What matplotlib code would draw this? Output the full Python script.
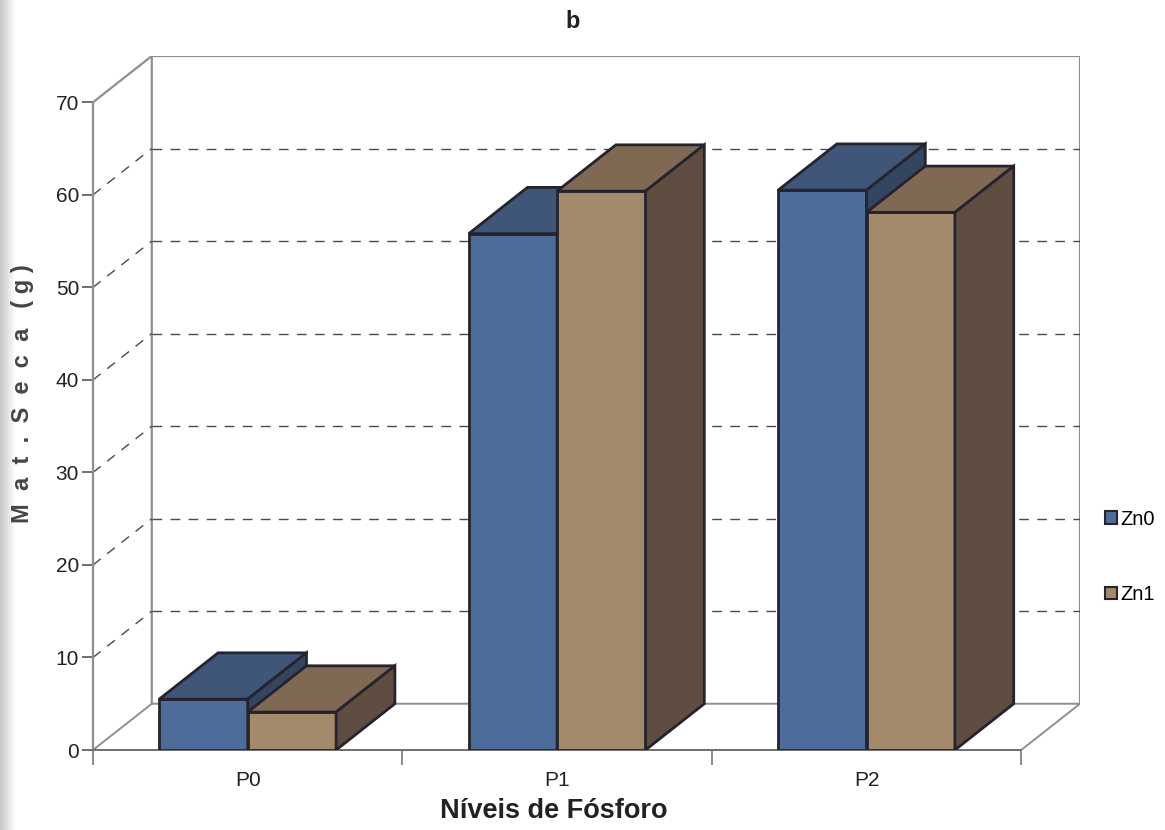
import numpy as np
import matplotlib.pyplot as plt
from matplotlib.patches import Polygon, Patch

plt.rcParams['font.family'] = ['Liberation Sans', 'DejaVu Sans']

# data
categories = ['P0', 'P1', 'P2']
series_names = ['Zn0', 'Zn1']
zn0 = [5.5, 55.8, 60.5]
zn1 = [4.1, 60.4, 58.1]

# face colours per series: front, top, side
faces = {
    'Zn0': ('#4c6c99', '#3f5678', '#33455f'),
    'Zn1': ('#a38a6b', '#7f6953', '#5f4d42'),
}
edge = '#26232e'
wall = '#8f8f8f'

DX, DY = 0.19, 5.0      # depth offset of the back plane (category units, value units)
bar_w = 1 / 3.5         # gap width 150%

fig = plt.figure(figsize=(11.65, 8.3), dpi=100)
ax = fig.add_axes([93 / 1165, 80 / 830, 987 / 1165, 694 / 830])
ax.set_xlim(0, 3 + DX)
ax.set_ylim(0, 70 + DY)

# walls and floor
ax.plot([0, DX, DX], [70, 70 + DY, DY], color=wall, lw=1.6, zorder=1)
ax.plot([DX, 3 + DX, 3 + DX], [70 + DY, 70 + DY, DY], color=wall, lw=1.6, zorder=1)
ax.plot([0, DX, 3 + DX, 3], [0, DY, DY, 0], color=wall, lw=1.4, zorder=1)

# gridlines: diagonal on side wall, horizontal on back wall
dash = (0, (7, 6))
for v in range(10, 70, 10):
    ax.plot([0, DX], [v, v + DY], color='#4a4a4a', lw=1, ls=dash, zorder=1)
    ax.plot([DX, 3 + DX], [v + DY, v + DY], color='#4a4a4a', lw=1, ls=dash, zorder=1)


def draw_box(x0, h, cols, z):
    front, top, side = cols
    ax.bar(x0, h, width=bar_w, align='edge', color=front, edgecolor=edge,
           linewidth=2, zorder=z)
    x1 = x0 + bar_w
    ax.add_patch(Polygon([(x0, h), (x1, h), (x1 + DX, h + DY), (x0 + DX, h + DY)],
                         closed=True, facecolor=top, edgecolor=edge, lw=2, zorder=z))
    ax.add_patch(Polygon([(x1, 0), (x1 + DX, DY), (x1 + DX, h + DY), (x1, h)],
                         closed=True, facecolor=side, edgecolor=edge, lw=2, zorder=z))


for i in range(len(categories)):
    c = i + 0.5
    draw_box(c - bar_w, zn0[i], faces['Zn0'], 3 + 2 * i)
    draw_box(c, zn1[i], faces['Zn1'], 4 + 2 * i)

# axes styling
for s in ['top', 'right']:
    ax.spines[s].set_visible(False)
ax.spines['left'].set_bounds(0, 70)
ax.spines['bottom'].set_bounds(0, 3)
ax.spines['left'].set_color(wall)
ax.spines['left'].set_linewidth(1.6)
ax.spines['bottom'].set_color('#6f6f6f')
ax.spines['bottom'].set_linewidth(1.4)

ax.set_yticks(range(0, 71, 10))
ax.tick_params(axis='y', length=8, width=1.2, color='#555555', labelsize=15,
               labelcolor='#222222', pad=2)
ax.set_xticks([0, 1, 2, 3])
ax.set_xticklabels([])
ax.set_xticks([0.5, 1.5, 2.5], minor=True)
ax.set_xticklabels(categories, minor=True, fontsize=15, color='#222222')
ax.tick_params(axis='x', which='major', length=11, width=1.2, color='#777777')
ax.tick_params(axis='x', which='minor', length=0, pad=15)

fig.text(554 / 1165, 1 - 811 / 830, 'Níveis de Fósforo', ha='center', va='center',
         fontsize=19.5, fontweight='bold', color='#222222')
fig.text(23 / 1165, 1 - 394 / 830, 'M  a  t  .  S  e  c  a   ( g )', rotation=90,
         ha='center', va='center', fontsize=17, fontweight='bold', color='#454545')
fig.text(573 / 1165, 1 - 22 / 830, 'b', ha='center', va='center',
         fontsize=17, fontweight='bold', color='#222222')

handles = [Patch(facecolor=faces[n][0], edgecolor=edge, lw=1.5) for n in series_names]
fig.legend(handles, series_names, loc='center left',
           bbox_to_anchor=(1105 / 1165, 1 - 557 / 830), frameon=False,
           fontsize=14.5, handlelength=0.6, handleheight=0.6, handletextpad=0.15,
           labelspacing=2.8, borderpad=0, borderaxespad=0)

# scanner shading along the left edge
shade = fig.add_axes([0, 0, 16 / 1165, 1], zorder=-1)
grad = np.linspace(0.78, 1.0, 16)[None, :]
shade.imshow(grad, cmap='gray', vmin=0, vmax=1, aspect='auto', extent=(0, 1, 0, 1))
shade.axis('off')

fig.savefig('out.png', dpi=100)
